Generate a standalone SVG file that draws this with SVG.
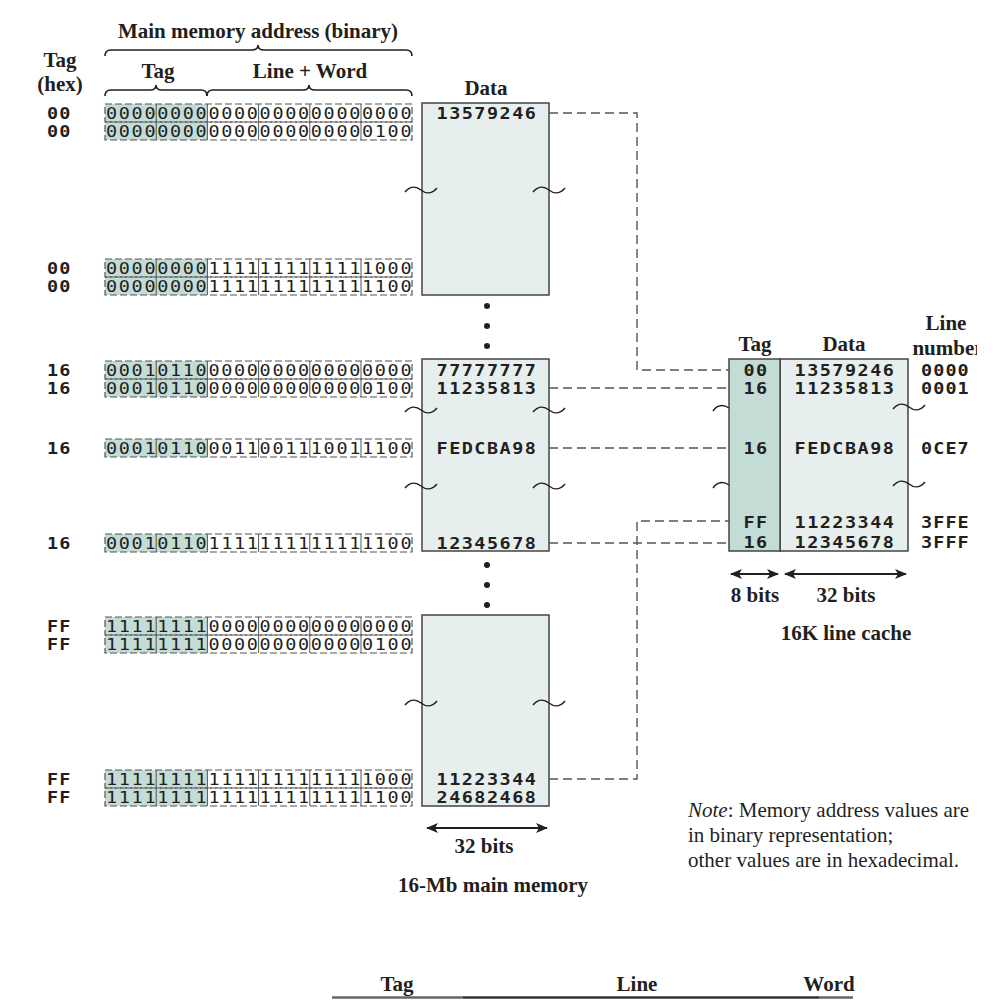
<svg xmlns="http://www.w3.org/2000/svg" width="1000" height="1000" viewBox="0 0 1000 1000">
<style>
.hd{font-family:"Liberation Serif","Times New Roman",serif;font-weight:bold;font-size:21px;fill:#231f20}
.nt{font-family:"Liberation Serif","Times New Roman",serif;font-size:21px;fill:#231f20}
.bits{font-family:"DejaVu Sans Mono",monospace;font-size:15.4px;letter-spacing:1.4px;fill:#231f20}
.hx{font-family:"DejaVu Sans Mono",monospace;font-weight:bold;font-size:15.4px;fill:#231f20}
.hxm{font-family:"DejaVu Sans Mono",monospace;font-weight:bold;font-size:15.4px;letter-spacing:1.25px;fill:#231f20;text-anchor:middle}
.brow{fill:none;stroke:#555;stroke-width:1.2;stroke-dasharray:7,3}
.gdiv{stroke:#555;stroke-width:1}
.tagsh{fill:#c4dcd6}
.mem{fill:#e6efed;stroke:#444;stroke-width:1.5}
.ctag{fill:#c4dcd6;stroke:#444;stroke-width:1.5}
.sq{fill:none;stroke:#231f20;stroke-width:1.5}
.br{fill:none;stroke:#231f20;stroke-width:1.6}
.dash{fill:none;stroke:#555;stroke-width:1.4;stroke-dasharray:9,5}
.arr{stroke:#231f20;stroke-width:2;marker-start:url(#ah);marker-end:url(#ah)}
.dot{fill:#231f20}
</style>
<defs>
<marker id="ah" viewBox="0 0 12 10" refX="11" refY="5" markerWidth="6" markerHeight="5" markerUnits="strokeWidth" orient="auto-start-reverse">
<path d="M0,0 L12,5 L0,10 L3,5 z" fill="#231f20"/>
</marker>
<clipPath id="rc"><rect x="0" y="0" width="977" height="1000"/></clipPath>
</defs>
<rect width="1000" height="1000" fill="#fff"/>

<g id="headers">
<text class="hd" x="258" y="38" text-anchor="middle">Main memory address (binary)</text>
<path class="br" d="M105,56 Q105,50 111,50 L252,50 Q258,50 258,45 Q258,50 264,50 L406,50 Q412,50 412,56"/>
<text class="hd" x="158" y="78" text-anchor="middle">Tag</text>
<text class="hd" x="310" y="78" text-anchor="middle">Line + Word</text>
<path class="br" d="M105,96 Q105,90 111,90 L150,90 Q156,90 156,85 Q156,90 162,90 L201,90 Q207,90 207,96"/>
<path class="br" d="M207,96 Q207,90 213,90 L303,90 Q309,90 309,85 Q309,90 315,90 L406,90 Q412,90 412,96"/>
<text class="hd" x="60" y="67" text-anchor="middle">Tag</text>
<text class="hd" x="60" y="91" text-anchor="middle">(hex)</text>
<text class="hd" x="486" y="95" text-anchor="middle">Data</text>
</g>

<g id="addresses">
<rect class="tagsh" x="105" y="104" width="102" height="36"/>
<rect class="tagsh" x="105" y="259" width="102" height="36"/>
<rect class="tagsh" x="105" y="361" width="102" height="36"/>
<rect class="tagsh" x="105" y="439" width="102" height="18"/>
<rect class="tagsh" x="105" y="534" width="102" height="18"/>
<rect class="tagsh" x="105" y="617" width="102" height="36"/>
<rect class="tagsh" x="105" y="770" width="102" height="36"/>

<rect class="brow" x="105" y="104" width="307" height="18"/><rect class="brow" x="105" y="122" width="307" height="18"/>
<rect class="brow" x="105" y="259" width="307" height="18"/><rect class="brow" x="105" y="277" width="307" height="18"/>
<rect class="brow" x="105" y="361" width="307" height="18"/><rect class="brow" x="105" y="379" width="307" height="18"/>
<rect class="brow" x="105" y="439" width="307" height="18"/>
<rect class="brow" x="105" y="534" width="307" height="18"/>
<rect class="brow" x="105" y="617" width="307" height="18"/><rect class="brow" x="105" y="635" width="307" height="18"/>
<rect class="brow" x="105" y="770" width="307" height="18"/><rect class="brow" x="105" y="788" width="307" height="18"/>

<path class="gdiv" d="M156.2,104V140M207.4,104V140M258.6,104V140M309.8,104V140M361,104V140
M156.2,259V295M207.4,259V295M258.6,259V295M309.8,259V295M361,259V295
M156.2,361V397M207.4,361V397M258.6,361V397M309.8,361V397M361,361V397
M156.2,439V457M207.4,439V457M258.6,439V457M309.8,439V457M361,439V457
M156.2,534V552M207.4,534V552M258.6,534V552M309.8,534V552M361,534V552
M156.2,617V653M207.4,617V653M258.6,617V653M309.8,617V653M361,617V653
M156.2,770V806M207.4,770V806M258.6,770V806M309.8,770V806M361,770V806"/>

<g transform="translate(106,0) scale(1.2,1)">
<text class="bits" x="0" y="118.6">000000000000000000000000</text>
<text class="bits" x="0" y="136.6">000000000000000000000100</text>
<text class="bits" x="0" y="273.6">000000001111111111111000</text>
<text class="bits" x="0" y="291.6">000000001111111111111100</text>
<text class="bits" x="0" y="375.6">000101100000000000000000</text>
<text class="bits" x="0" y="393.6">000101100000000000000100</text>
<text class="bits" x="0" y="453.6">000101100011001110011100</text>
<text class="bits" x="0" y="548.6">000101101111111111111100</text>
<text class="bits" x="0" y="631.6">111111110000000000000000</text>
<text class="bits" x="0" y="649.6">111111110000000000000100</text>
<text class="bits" x="0" y="784.6">111111111111111111111000</text>
<text class="bits" x="0" y="802.6">111111111111111111111100</text>
</g>

<g class="hx" transform="translate(47,0) scale(1.2,1)" style="letter-spacing:1px">
<text x="0" y="118.6">00</text><text x="0" y="136.6">00</text>
<text x="0" y="273.6">00</text><text x="0" y="291.6">00</text>
<text x="0" y="375.6">16</text><text x="0" y="393.6">16</text>
<text x="0" y="453.6">16</text>
<text x="0" y="548.6">16</text>
<text x="0" y="631.6">FF</text><text x="0" y="649.6">FF</text>
<text x="0" y="784.6">FF</text><text x="0" y="802.6">FF</text>
</g>
</g>

<g id="main-memory">
<rect class="mem" x="422" y="103" width="127" height="192"/>
<rect class="mem" x="422" y="359" width="127" height="192"/>
<rect class="mem" x="422" y="615" width="127" height="191"/>
<g transform="translate(487,0) scale(1.2,1)">
<text class="hxm" x="0" y="118.6">13579246</text>
<text class="hxm" x="0" y="375.6">77777777</text>
<text class="hxm" x="0" y="393.6">11235813</text>
<text class="hxm" x="0" y="453.6">FEDCBA98</text>
<text class="hxm" x="0" y="548.6">12345678</text>
<text class="hxm" x="0" y="784.6">11223344</text>
<text class="hxm" x="0" y="802.6">24682468</text>
</g>
<path class="sq" d="M405,192 C410,186 416,186 421,190 C426,194 432,194 437,188 M533,192 C538,186 544,186 549,190 C554,194 560,194 565,188
M405,412 C410,406 416,406 421,410 C426,414 432,414 437,408 M533,412 C538,406 544,406 549,410 C554,414 560,414 565,408
M405,488 C410,482 416,482 421,486 C426,490 432,490 437,484 M533,488 C538,482 544,482 549,486 C554,490 560,490 565,484
M405,705 C410,699 416,699 421,703 C426,707 432,707 437,701 M533,705 C538,699 544,699 549,703 C554,707 560,707 565,701"/>
<circle class="dot" cx="487" cy="306" r="3"/><circle class="dot" cx="487" cy="326" r="3"/><circle class="dot" cx="487" cy="346" r="3"/>
<circle class="dot" cx="487" cy="565" r="3"/><circle class="dot" cx="487" cy="585" r="3"/><circle class="dot" cx="487" cy="605" r="3"/>
<line class="arr" x1="427" y1="828" x2="547" y2="828"/>
<text class="hd" x="484" y="853" text-anchor="middle">32 bits</text>
<text class="hd" x="493" y="892" text-anchor="middle">16-Mb main memory</text>
</g>

<g id="cache">
<rect class="mem" x="780" y="359" width="128" height="192"/>
<rect class="ctag" x="729" y="359" width="51" height="192"/>
<text class="hd" x="755" y="351" text-anchor="middle">Tag</text>
<text class="hd" x="844" y="351" text-anchor="middle">Data</text>
<text class="hd" x="946" y="330" text-anchor="middle">Line</text>
<text class="hd" x="948" y="355" text-anchor="middle" clip-path="url(#rc)">number</text>
<g transform="translate(756,0) scale(1.2,1)">
<text class="hxm" x="0" y="375.6">00</text><text class="hxm" x="0" y="393.6">16</text><text class="hxm" x="0" y="453.6">16</text><text class="hxm" x="0" y="527.6">FF</text><text class="hxm" x="0" y="547.6">16</text>
</g>
<g class="hx" transform="translate(921,0) scale(1.2,1)" style="letter-spacing:0.9px">
<text x="0" y="375.6">0000</text><text x="0" y="393.6">0001</text><text x="0" y="453.6">0CE7</text><text x="0" y="527.6">3FFE</text><text x="0" y="547.6">3FFF</text>
</g>
<g transform="translate(845,0) scale(1.2,1)">
<text class="hxm" x="0" y="375.6">13579246</text>
<text class="hxm" x="0" y="393.6">11235813</text>
<text class="hxm" x="0" y="453.6">FEDCBA98</text>
<text class="hxm" x="0" y="527.6">11223344</text>
<text class="hxm" x="0" y="547.6">12345678</text>
</g>
<path class="sq" d="M713,411 C717,405 723,404 729,408 M713,488 C717,482 723,481 729,485
M893,409 C898,403 904,403 909,407 C914,411 920,411 925,405 M893,486 C898,480 904,480 909,484 C914,488 920,488 925,482"/>
<line class="arr" x1="731" y1="574" x2="778" y2="574"/>
<line class="arr" x1="785" y1="574" x2="906" y2="574"/>
<text class="hd" x="755" y="602" text-anchor="middle">8 bits</text>
<text class="hd" x="846" y="602" text-anchor="middle">32 bits</text>
<text class="hd" x="846" y="640" text-anchor="middle">16K line cache</text>
</g>

<g id="connectors">
<path class="dash" d="M549,113 H637 V370 H729"/>
<path class="dash" d="M549,388 H729"/>
<path class="dash" d="M549,448 H729"/>
<path class="dash" d="M549,543 H729"/>
<path class="dash" d="M549,779 H637 V521 H729"/>
</g>

<g id="note">
<text class="nt" x="688" y="817"><tspan font-style="italic">Note</tspan>: Memory address values are</text>
<text class="nt" x="688" y="842">in binary representation;</text>
<text class="nt" x="688" y="867">other values are in hexadecimal.</text>
</g>

<g id="format">
<text class="hd" x="397" y="991" text-anchor="middle">Tag</text>
<text class="hd" x="637" y="991" text-anchor="middle">Line</text>
<text class="hd" x="829" y="991" text-anchor="middle">Word</text>
<line x1="332" y1="997.5" x2="463" y2="997.5" stroke="#666" stroke-width="2.5"/>
<line x1="463" y1="997.5" x2="819" y2="997.5" stroke="#333" stroke-width="2.5"/>
<line x1="819" y1="997.5" x2="853" y2="997.5" stroke="#666" stroke-width="2.5"/>
</g>
</svg>
